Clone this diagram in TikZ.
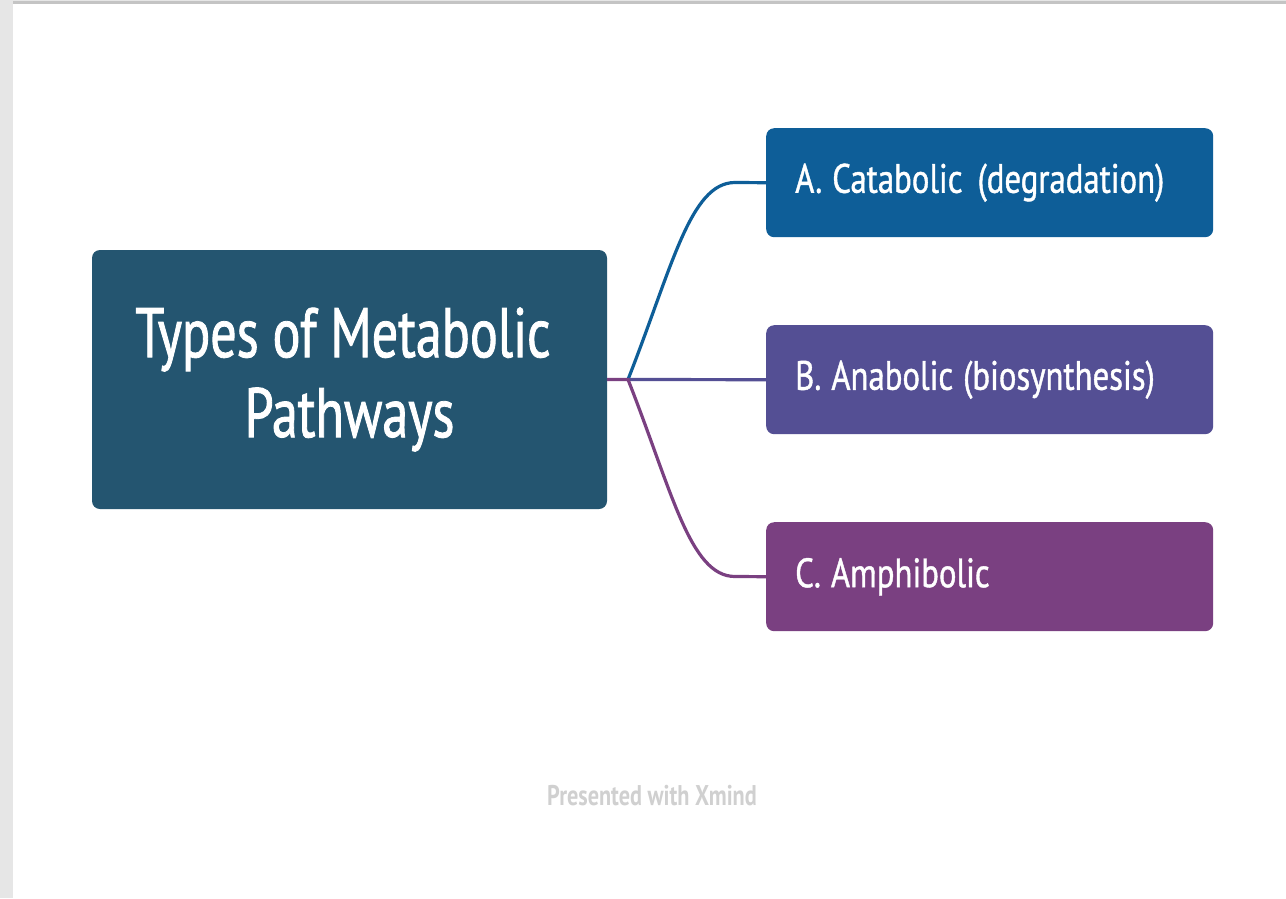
\documentclass[tikz,border=0pt]{standalone}
\usepackage{fontspec}
\setmainfont[FakeStretch=0.78]{PT Sans}
\newfontfamily\titlefont[FakeStretch=0.745,FakeBold=1.2]{PT Sans}
\newfontfamily\childfont[FakeStretch=0.8,FakeBold=1]{PT Sans}
\definecolor{mainc}{RGB}{36,85,112}
\definecolor{ca}{RGB}{14,94,152}
\definecolor{cb}{RGB}{84,79,148}
\definecolor{cc}{RGB}{122,64,129}
\definecolor{strip}{RGB}{230,230,230}
\definecolor{topline}{RGB}{196,196,196}
\definecolor{foot}{RGB}{208,208,208}
\tikzset{
  mainbox/.style={fill=mainc, rounded corners=8pt, minimum width=515pt, minimum height=259pt,
    text=white, align=center, font=\titlefont\fontsize{70}{80}\selectfont, inner sep=0pt},
  childbox/.style={rounded corners=8pt, minimum width=447pt, minimum height=109pt,
    text=white, align=left, text width=389pt, inner xsep=29pt, inner ysep=0pt,
    font=\childfont\frenchspacing\fontsize{41}{48}\selectfont, anchor=north west,
    execute at begin node={\spaceskip=10pt\relax}},
  branch/.style={line width=3.2pt},
}
\begin{document}
\begin{tikzpicture}[x=1pt,y=-1pt]
\useasboundingbox (0,0) rectangle (1286,898);
\fill[white] (0,0) rectangle (1286,898);
\fill[strip] (0,0) rectangle (13,898);
\fill[topline] (13,0) rectangle (1286,4);
\fill[strip] (13,0) rectangle (1286,1.2);

\node[mainbox] (main) at (349.5,379.5) {\hspace*{-13pt}Types of Metabolic\\Pathways};
\node[childbox, fill=ca] (A) at (766,128) {A. Catabolic\hspace{5pt} (degradation)};
\node[childbox, fill=cb] (B) at (766,325) {B. Anabolic (biosynthesis)};
\node[childbox, fill=cc] (C) at (766,522) {C. Amphibolic};

\coordinate (hub) at (628,379.5);
\coordinate (ea) at (735,182.5);
\coordinate (ec) at (735,576.5);

\draw[branch, ca] (hub) .. controls (672,268) and (690,182.5) .. (ea) -- (A.west);
\draw[branch, cb] (hub) -- (B.west);
\draw[branch, cc] (main.east) -- (hub) .. controls (672,491) and (690,576.5) .. (ec) -- (C.west);

\node[text=foot, font=\bfseries\fontsize{28.5}{32}\selectfont] (foot) at (652,796) {Presented with Xmind};
\end{tikzpicture}
\end{document}
